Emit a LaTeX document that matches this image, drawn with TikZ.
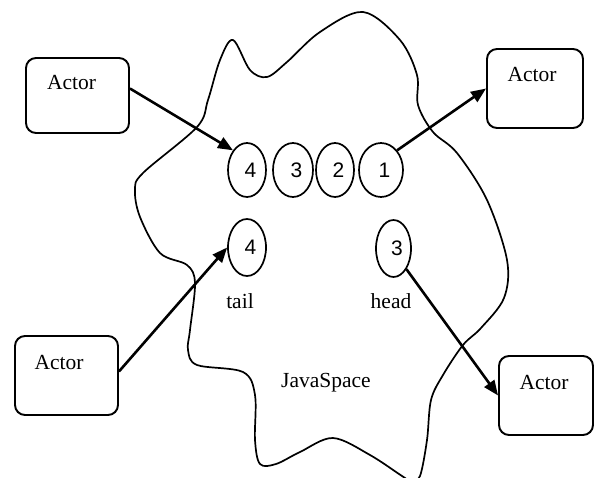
\documentclass[tikz,border=0pt]{standalone}
\usepackage{fontspec}
\setmainfont{Liberation Serif}
\newfontfamily\numfont{Liberation Sans}
\usetikzlibrary{arrows.meta}
\usetikzlibrary{shapes.geometric}

\tikzset{
  actor/.style={draw, line width=1.9pt, rounded corners=10pt, inner sep=0pt},
  slot/.style={draw, ellipse, line width=1.7pt, inner sep=0pt, minimum height=54,
    font=\numfont\fontsize{21}{24}\selectfont, execute at begin node={\hspace*{7pt}}},
  word/.style={anchor=base, inner sep=0pt, font=\fontsize{21.5}{26}\selectfont},
  push/.style={line width=2.6pt, -{Triangle[length=15pt,width=12pt]}}
}

\begin{document}
\begin{tikzpicture} [x=1pt, y=-1pt]

\useasboundingbox (0,0) rectangle (594,478);

\draw[line width=1.7pt] plot[smooth cycle, tension=0.55] coordinates {
 (233,40) (250,70) (267,77) (287,62) (320,32) (363,12) (400,40) (417,75)
 (418,105) (433,132) (457,153) (487,200) (507,260) (504,298) (481,328)
 (463,345) (443,375) (431,400) (427,440) (420,476) (411,481) (402,476)
 (370,455) (333,438) (300,452) (276,464) (260,464) (255,440) (255,395)
 (243,372) (197,365) (188,350) (190,330) (195,283) (187,265) (160,253)
 (140,217) (135,190) (143,173) (197,127) (208,100) (220,60)};

\node[actor, minimum width=103, minimum height=75] (a1) at (77.5,95.5) {};
\node[actor, minimum width=96, minimum height=79] (a2) at (535,88.5) {};
\node[actor, minimum width=103, minimum height=79] (a3) at (66.5,375.5) {};
\node[actor, minimum width=94, minimum height=79] (a4) at (546,395.5) {};
\node[word] (t1) at (71.5,90) {Actor};
\node[word] (t2) at (532,82) {Actor};
\node[word] (t3) at (59,369) {Actor};
\node[word] (t4) at (544,389) {Actor};

\foreach \n/\x/\w in {4/247/38, 3/293/40, 2/335/38, 1/381/44}
 \node[slot, minimum width=\w] (q\n) at (\x,170) {\n};

\node[slot, minimum width=38, minimum height=57] (tl) at (247,247.5) {4};
\node[slot, minimum width=35, minimum height=57] (hd) at (393.5,248.5) {3};

\node[word] (tailtext) at (240,308) {tail};
\node[word] (headtext) at (391,308) {head};
\node[word] (space) at (326,387) {JavaSpace};

\draw[push] ([yshift=7pt]a1.east) -- (q4.north west);
\draw[push] (q1.north east) -- (a2.west);
\draw[push] ([yshift=4pt]a3.east) -- (tl.west);
\draw[push] (hd.south east) -- (a4.west);

\end{tikzpicture}
\end{document}
